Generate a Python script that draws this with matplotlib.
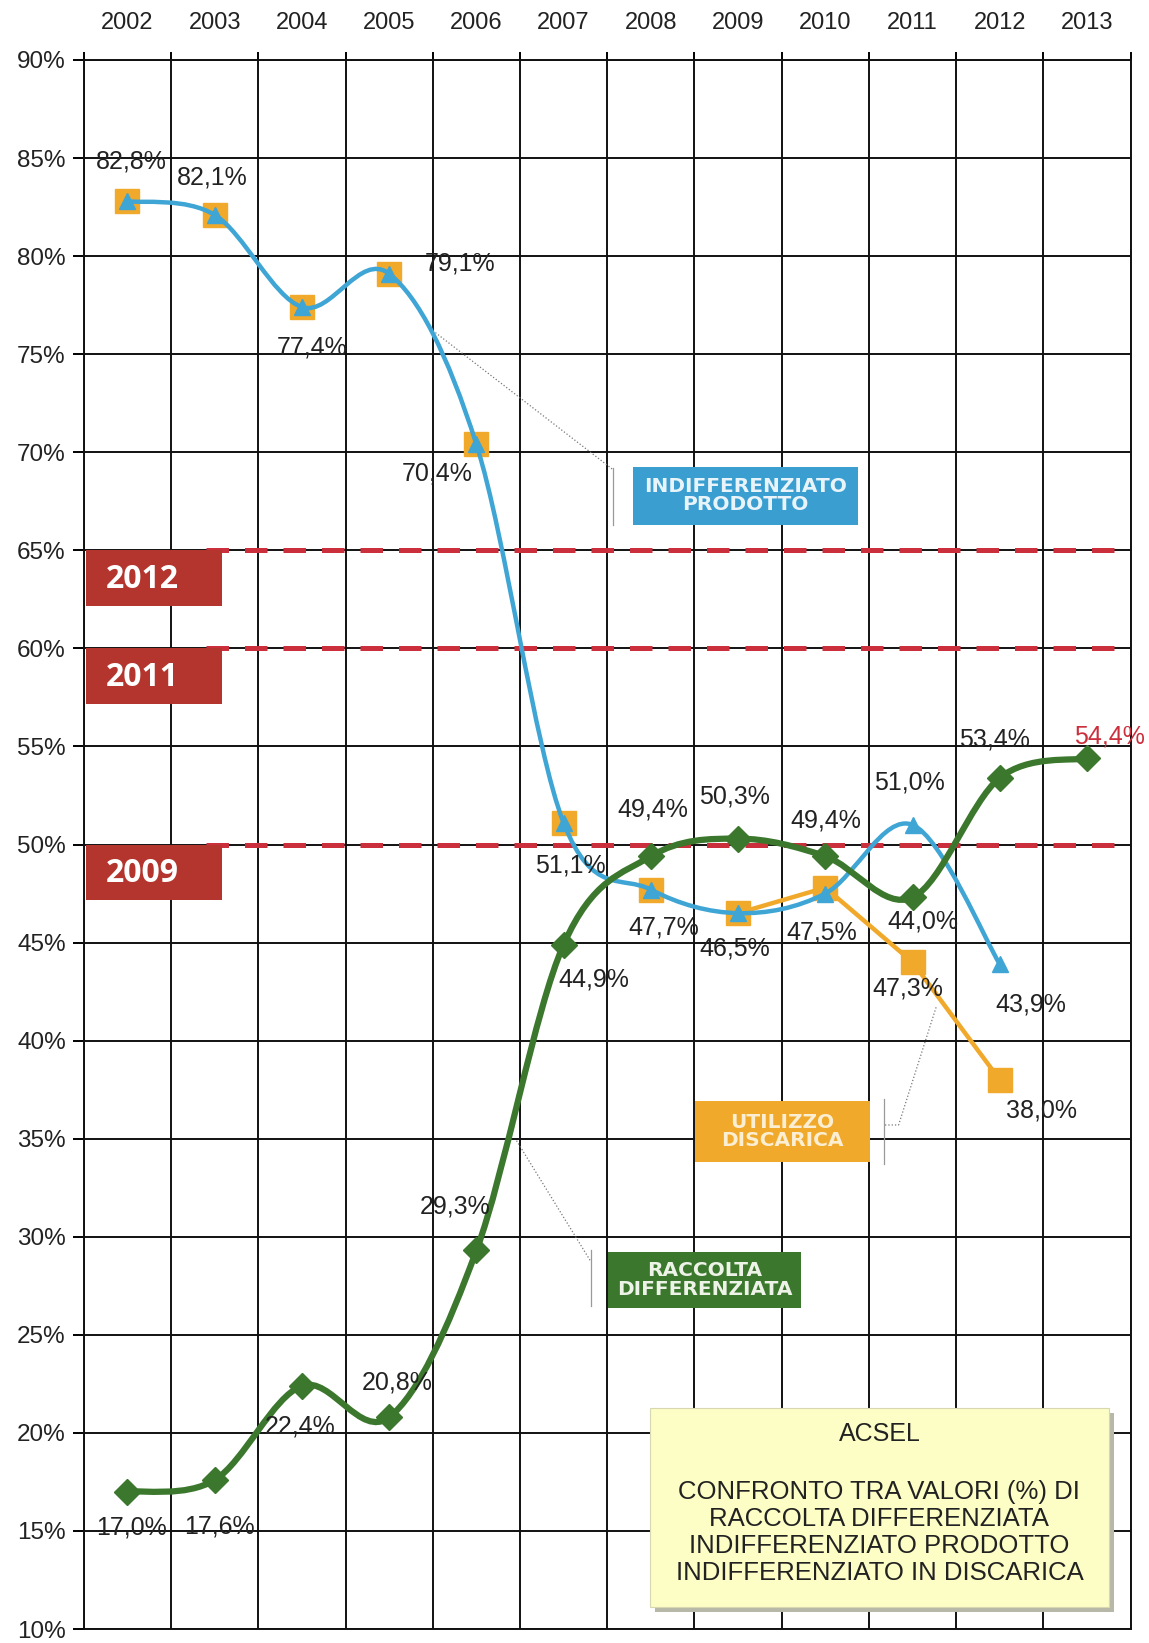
import numpy as np
import matplotlib.pyplot as plt
from matplotlib.path import Path
from matplotlib.patches import PathPatch, Rectangle

# dati ACSEL - valori in %
anni = ['2002', '2003', '2004', '2005', '2006', '2007', '2008',
        '2009', '2010', '2011', '2012', '2013']
raccolta = [17.0, 17.6, 22.4, 20.8, 29.3, 44.9, 49.4, 50.3, 49.4, 47.3, 53.4, 54.4]
indiff = [82.8, 82.1, 77.4, 79.1, 70.4, 51.1, 47.7, 46.5, 47.5, 51.0, 43.9]
discarica = [82.8, 82.1, 77.4, 79.1, 70.4, 51.1, 47.7, 46.5, 47.8, 44.0, 38.0]

# etichette come nel grafico originale
lbl_raccolta = ['17,0%', '17,6%', '22,4%', '20,8%', '29,3%', '44,9%', '49,4%',
                '50,3%', '49,4%', '44,0%', '53,4%', '54,4%']
lbl_indiff = ['82,8%', '82,1%', '77,4%', '79,1%', '70,4%', '51,1%', '47,7%',
              '46,5%', '47,5%', '51,0%', '43,9%']
lbl_discarica = {9: '47,3%', 10: '38,0%'}

soglie = [65, 60, 50]
soglie_anno = ['2012', '2011', '2009']

# offset etichette (pixel)
off_raccolta = [(4, -36), (5, -47), (-2, -41), (8, 35), (-21, 44), (30, -35),
                (2, 47), (-4, 42), (0, 36), (10, -24), (-5, 38), (22, 22)]
off_indiff = [(4, 40), (-2, 37), (10, -40), (71, 10), (-39, -29), (7, -43),
              (13, -38), (-3, -35), (-4, -39), (-3, 42), (31, -40)]
off_discarica = {9: (-5, -26), 10: (42, -31)}

c_blu = '#3ea5d5'
c_verde = '#3b772c'
c_arancio = '#f0a92a'
c_rosso = '#cc2f3c'
c_box_rosso = '#b3352e'

plt.rcParams['font.family'] = ['Liberation Sans', 'DejaVu Sans']


def smooth_path(xs, ys):
    # curva "smussata" tipo Excel (Bezier)
    n = len(xs)
    verts = [(xs[0], ys[0])]
    codes = [Path.MOVETO]
    for i in range(n - 1):
        a = max(i - 1, 0)
        b = min(i + 2, n - 1)
        c1 = (xs[i] + (xs[i + 1] - xs[a]) / 6, ys[i] + (ys[i + 1] - ys[a]) / 6)
        c2 = (xs[i + 1] - (xs[b] - xs[i]) / 6, ys[i + 1] - (ys[b] - ys[i]) / 6)
        verts += [c1, c2, (xs[i + 1], ys[i + 1])]
        codes += [Path.CURVE4] * 3
    return Path(verts, codes)


fig = plt.figure(figsize=(11.49, 16.43), dpi=100)
ax = fig.add_axes([0.073, 0.0085, 0.911, 0.955])

x_r = np.arange(len(raccolta))
x_i = np.arange(len(indiff))
x_d = np.arange(len(discarica))

ax.set_xlim(-0.5, len(anni) - 0.5)
ax.set_ylim(10, 90)

# griglia
ax.set_yticks(np.arange(10, 91, 5))
ax.set_yticklabels([f'{v}%' for v in range(10, 91, 5)], fontsize=17.5, color='#222222')
ax.set_xticks(np.arange(len(anni)))
ax.set_xticklabels(anni, fontsize=17, color='#222222')
ax.set_xticks(np.arange(len(anni) + 1) - 0.5, minor=True)
ax.xaxis.tick_top()
ax.tick_params(axis='x', which='major', length=0, pad=19)
ax.tick_params(axis='x', which='minor', length=6, width=1.4, top=True, bottom=False)
ax.tick_params(axis='y', length=8, width=1.4, pad=5)
ax.grid(axis='y', color='#111111', linewidth=1.4, zorder=1)
ax.grid(axis='x', which='minor', color='#111111', linewidth=1.4, zorder=1)
for s in ax.spines.values():
    s.set_linewidth(1.4)
    s.set_color('#111111')

# soglie obiettivo
for v, a in zip(soglie, soglie_anno):
    ax.plot([0.9, len(anni) - 0.5], [v, v], color=c_rosso, linewidth=3.6,
            dashes=(4.5, 3.2), zorder=2)
    ax.add_patch(Rectangle((-0.48, v - 2.85), 1.56, 2.85, facecolor=c_box_rosso,
                           edgecolor='none', zorder=3))
    ax.text(0.17, v - 1.5, a, ha='center', va='center', color='white',
            fontsize=23, fontweight='bold', family=['Open Sans', 'DejaVu Sans'], zorder=4)

# discarica: marker su tutti gli anni, linea dal 2009
ax.plot(x_d, discarica, linestyle='none', marker='s', markersize=17,
        color=c_arancio, zorder=5)
ax.plot(x_d[7:], discarica[7:], color=c_arancio, linewidth=3.2, zorder=5)

# indifferenziato prodotto
ax.add_patch(PathPatch(smooth_path(x_i, indiff), fill=False, edgecolor=c_blu,
                       linewidth=3.2, zorder=6))
ax.plot(x_i, indiff, linestyle='none', marker='^', markersize=11, color=c_blu, zorder=6)

# raccolta differenziata
ax.add_patch(PathPatch(smooth_path(x_r, raccolta), fill=False, edgecolor=c_verde,
                       linewidth=4.5, zorder=7))
ax.plot(x_r, raccolta, linestyle='none', marker='D', markersize=13, color=c_verde, zorder=7)

# etichette dati
for i, (v, t) in enumerate(zip(indiff, lbl_indiff)):
    ax.annotate(t, (x_i[i], v), xytext=off_indiff[i], textcoords='offset pixels',
                ha='center', va='center', fontsize=18, color='#222222', zorder=9)
for i, t in lbl_discarica.items():
    ax.annotate(t, (x_d[i], discarica[i]), xytext=off_discarica[i], textcoords='offset pixels',
                ha='center', va='center', fontsize=18, color='#222222', zorder=9)
for i, (v, t) in enumerate(zip(raccolta, lbl_raccolta)):
    col = c_rosso if i == len(raccolta) - 1 else '#222222'
    ax.annotate(t, (x_r[i], v), xytext=off_raccolta[i], textcoords='offset pixels',
                ha='center', va='center', fontsize=18, color=col, zorder=9)

# richiami serie
lead = dict(color='#777777', linewidth=0.9, linestyle=':', zorder=8)
box_font = ['Liberation Sans Narrow', 'DejaVu Sans']

ax.plot([3.53, 5.57], [76.1, 69.1], **lead)
ax.plot([5.57, 5.57], [69.2, 66.3], color='#999999', linewidth=0.9, zorder=8)
ax.add_patch(Rectangle((5.79, 66.31), 2.58, 2.94, facecolor='#3a9fd0', edgecolor='none', zorder=8))
ax.text(7.08, 67.78, 'INDIFFERENZIATO\nPRODOTTO', ha='center', va='center', color='#e8f4fa',
        fontsize=14.5, fontweight='bold', family=box_font, linespacing=0.95, zorder=9)

ax.plot([9.27, 8.84, 8.67], [41.7, 35.7, 35.7], **lead)
ax.plot([8.67, 8.67], [37.0, 33.7], color='#999999', linewidth=0.9, zorder=8)
ax.add_patch(Rectangle((6.51, 33.83), 2.0, 3.09, facecolor=c_arancio, edgecolor='none', zorder=8))
ax.text(7.51, 35.37, 'UTILIZZO\nDISCARICA', ha='center', va='center', color='#fbeed2',
        fontsize=14.5, fontweight='bold', family=box_font, linespacing=0.95, zorder=9)

ax.plot([4.46, 5.31], [34.9, 28.75], **lead)
ax.plot([5.31, 5.31], [29.3, 26.45], color='#999999', linewidth=0.9, zorder=8)
ax.add_patch(Rectangle((5.51, 26.35), 2.21, 2.88, facecolor=c_verde, edgecolor='none', zorder=8))
ax.text(6.62, 27.79, 'RACCOLTA\nDIFFERENZIATA', ha='center', va='center', color='#eef3e8',
        fontsize=14.5, fontweight='bold', family=box_font, linespacing=0.95, zorder=9)

# riquadro titolo
ax.add_patch(Rectangle((6.05, 10.85), 5.26, 10.15, facecolor='#b8b8a8', edgecolor='none', zorder=8))
ax.add_patch(Rectangle((5.99, 11.12), 5.26, 10.15, facecolor='#fdfdc6', edgecolor='#d8d8b0',
                       linewidth=0.8, zorder=8))
ax.text(8.62, 19.94, 'ACSEL', ha='center', va='center', fontsize=18, color='#222222', zorder=9)
ax.text(8.62, 14.92, 'CONFRONTO TRA VALORI (%) DI\nRACCOLTA DIFFERENZIATA\n'
        'INDIFFERENZIATO PRODOTTO\nINDIFFERENZIATO IN DISCARICA',
        ha='center', va='center', fontsize=18.5, color='#222222', linespacing=1.16, zorder=9)

plt.savefig('out.png', dpi=100)
